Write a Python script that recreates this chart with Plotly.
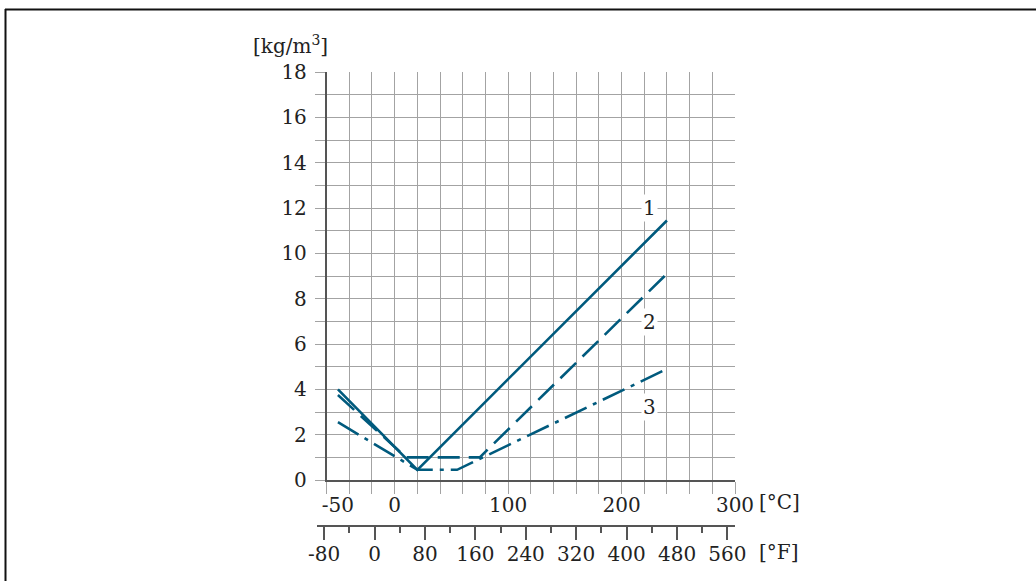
import plotly.graph_objects as go

# ---------------- data ----------------
temp_1 = [-50, 20, 240]
dens_1 = [4.0, 0.45, 11.45]

temp_2 = [-50, 10, 75, 238]
dens_2 = [3.75, 1.0, 1.0, 9.0]

temp_3 = [-50, 20, 55, 238]
dens_3 = [2.55, 0.45, 0.45, 4.85]

curve_labels = ["1", "2", "3"]
label_temp = [225, 225, 225]
label_dens = [12.0, 6.95, 3.2]

c_ticks = [-50, 0, 100, 200, 300]
f_ticks = [-80, 0, 80, 160, 240, 320, 400, 480, 560]
y_ticks = [0, 2, 4, 6, 8, 10, 12, 14, 16, 18]

# ---------------- layout geometry (pixels) ----------------
W, H = 1036, 581
paper_left = 317
plot_left = 326.6
plot_right = 735
plot_top = 72
plot_bottom = 480
paper_bottom = 541
f_axis_px = 525.7

c_min, c_max = -60, 300
pw = W - paper_left - (W - plot_right)
ph = paper_bottom - plot_top
px_per_c = (plot_right - plot_left) / (c_max - c_min)


def px_x(p):
    return (p - paper_left) / pw


def px_y(p):
    return (paper_bottom - p) / ph


c_left_edge = c_min - (plot_left - paper_left) / px_per_c
f_range = [c_left_edge * 1.8 + 32, c_max * 1.8 + 32]

LINE = "#005a7d"
GRID = "#a3a3a3"
AXIS = "#555555"
TXT = "#222222"
FONT = "DejaVu Serif"

fig = go.Figure()
fig.add_trace(go.Scatter(x=temp_1, y=dens_1, mode="lines",
                         line=dict(color=LINE, width=2.6), showlegend=False))
fig.add_trace(go.Scatter(x=temp_2, y=dens_2, mode="lines",
                         line=dict(color=LINE, width=2.6, dash="22px,9px"), showlegend=False))
fig.add_trace(go.Scatter(x=temp_3, y=dens_3, mode="lines",
                         line=dict(color=LINE, width=2.6, dash="24px,7px,4px,7px"), showlegend=False))
# helper trace so the Fahrenheit axis is drawn (own hidden y axis)
fig.add_trace(go.Scatter(x=[None], y=[None], xaxis="x2", yaxis="y2",
                         mode="lines", showlegend=False, hoverinfo="skip"))

for lab, t, d in zip(curve_labels, label_temp, label_dens):
    fig.add_annotation(x=t, y=d, text=lab, showarrow=False, bgcolor="white",
                       font=dict(family=FONT, size=20, color=TXT), borderpad=1)

fig.update_layout(
    width=W, height=H,
    margin=dict(l=paper_left, r=W - plot_right, t=plot_top, b=H - paper_bottom),
    paper_bgcolor="white", plot_bgcolor="rgba(0,0,0,0)",
    showlegend=False,
    font=dict(family=FONT, size=20, color=TXT),
    xaxis=dict(
        domain=[px_x(plot_left), 1], range=[c_min, c_max],
        tickvals=c_ticks, ticktext=[str(v) for v in c_ticks],
        ticks="", showgrid=False, zeroline=False,
        showline=True, linecolor=AXIS, linewidth=1.5,
        ticklabelstandoff=6,
        minor=dict(tick0=-60, dtick=20, showgrid=True, gridcolor=GRID, gridwidth=1,
                   ticks="outside", ticklen=12, tickcolor=GRID, tickwidth=1),
        tickfont=dict(family=FONT, size=20, color=TXT),
        automargin=False, fixedrange=True,
    ),
    xaxis2=dict(
        domain=[0, 1], range=f_range, anchor="free",
        position=px_y(f_axis_px), side="bottom",
        tickvals=f_ticks, ticktext=[str(v) for v in f_ticks],
        ticks="outside", ticklen=14, tickcolor=AXIS, tickwidth=1.5,
        showgrid=False, zeroline=False,
        showline=True, linecolor=AXIS, linewidth=1.5,
        ticklabelstandoff=-3,
        minor=dict(tick0=-40, dtick=80, ticks="outside", ticklen=7,
                   tickcolor=AXIS, tickwidth=1.5, showgrid=False),
        tickfont=dict(family=FONT, size=20, color=TXT),
        automargin=False, fixedrange=True,
    ),
    yaxis2=dict(
        domain=[px_y(f_axis_px), px_y(f_axis_px) + 0.01],
        visible=False, showgrid=False, zeroline=False, fixedrange=True,
    ),
    yaxis=dict(
        domain=[px_y(plot_bottom), 1], range=[0, 18],
        tickvals=y_ticks, ticktext=[str(v) for v in y_ticks],
        ticks="", showgrid=False, zeroline=False,
        showline=True, linecolor=AXIS, linewidth=1.5,
        ticklabelstandoff=14,
        minor=dict(tick0=0, dtick=1, showgrid=True, gridcolor=GRID, gridwidth=1,
                   ticks="outside", ticklen=10, tickcolor=GRID, tickwidth=1),
        tickfont=dict(family=FONT, size=20, color=TXT),
        automargin=False, fixedrange=True,
    ),
)

# unit labels
fig.add_annotation(xref="paper", yref="paper", x=px_x(290), y=px_y(45),
                   xanchor="center", yanchor="middle",
                   text="[kg/m<sup>3</sup>]", showarrow=False,
                   font=dict(family=FONT, size=20, color=TXT))
fig.add_annotation(xref="paper", yref="paper", x=px_x(757), y=px_y(502),
                   xanchor="left", yanchor="middle", text="[°C]", showarrow=False,
                   font=dict(family=FONT, size=20, color=TXT))
fig.add_annotation(xref="paper", yref="paper", x=px_x(757), y=px_y(552),
                   xanchor="left", yanchor="middle", text="[°F]", showarrow=False,
                   font=dict(family=FONT, size=20, color=TXT))

# outer frame (top and left edges)
fig.add_shape(type="line", xref="paper", yref="paper",
              x0=px_x(5), x1=px_x(W + 5), y0=px_y(9.5), y1=px_y(9.5),
              line=dict(color="#111111", width=2))
fig.add_shape(type="line", xref="paper", yref="paper",
              x0=px_x(5.5), x1=px_x(5.5), y0=px_y(9), y1=px_y(H + 5),
              line=dict(color="#111111", width=2))

fig.write_html("out.html", config={"displayModeBar": False},
               post_script="document.body.style.margin='0px';")
